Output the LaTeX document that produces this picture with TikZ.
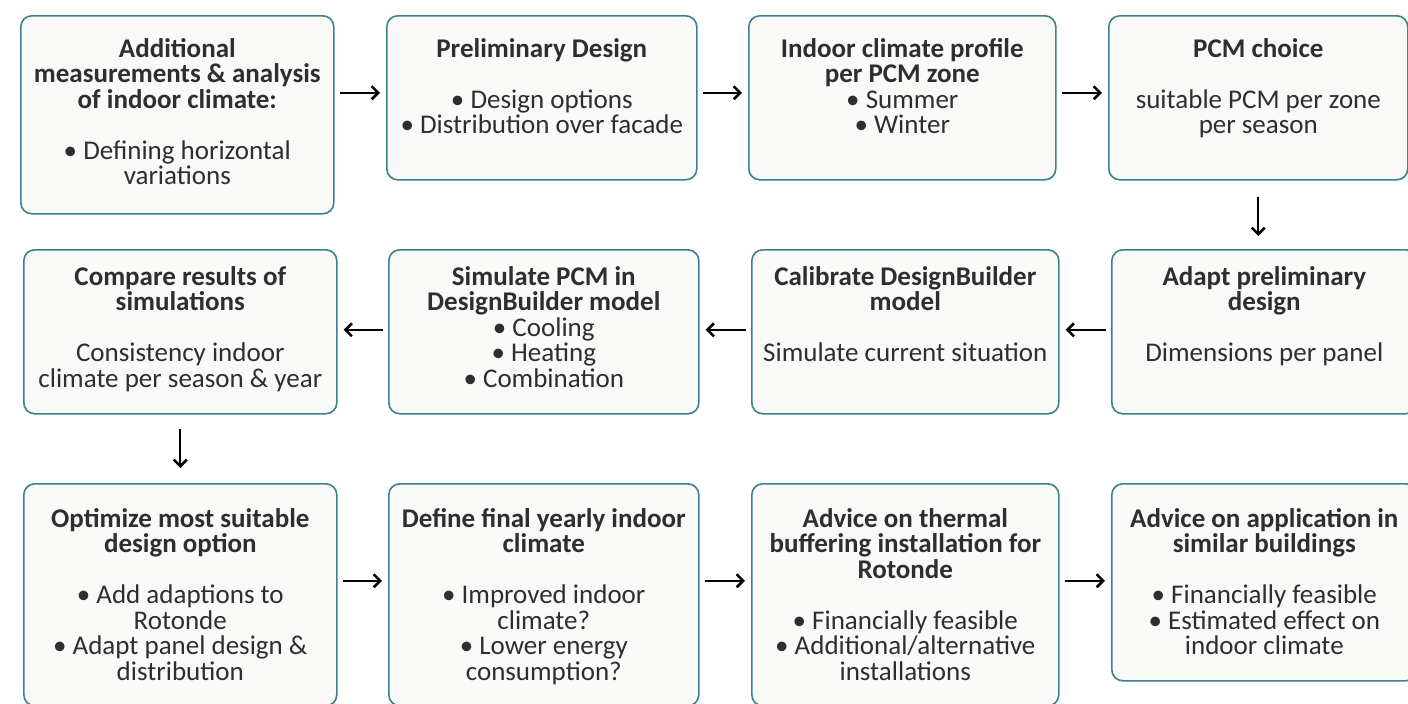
\documentclass[tikz,border=0pt]{standalone}
\usepackage{fontspec}
\setmainfont{Carlito}
\usepackage[dvipsnames]{xcolor}
\usetikzlibrary{arrows.meta}
\usetikzlibrary{positioning}

\definecolor{edgeteal}{RGB}{62,128,142}
\definecolor{boxfill}{RGB}{249,249,247}

\tikzset{
    stage/.style={draw=edgeteal, fill=boxfill, line width=1.6pt, rounded corners=11pt,
        anchor=north west, inner sep=0pt},
    stagetext/.style={align=center, inner sep=0pt, anchor=north,
        font=\fontsize{27}{25.5}\selectfont, text=black!82},
    flow/.style={line width=1.8pt, -{Straight Barb[length=6.5pt,width=13pt,line width=2.6pt]},
        shorten <=5pt, shorten >=6pt}
}

\begin{document}
\begin{tikzpicture}[x=1pt,y=-1pt]
    \useasboundingbox (0,0) rectangle (1408,704);
    \clip (0,0) rectangle (1408,704);

    % Reihe 1
    \node[stage, minimum width=313pt, minimum height=198pt] (measure) at (20,15) {};
    \node[stage, minimum width=310pt, minimum height=164pt] (prelim) at (386,15) {};
    \node[stage, minimum width=307pt, minimum height=164pt] (profile) at (748,15) {};
    \node[stage, minimum width=299pt, minimum height=164pt] (choice) at (1108,15) {};

    % Reihe 2
    \node[stage, minimum width=313pt, minimum height=164pt] (compare) at (23,249) {};
    \node[stage, minimum width=310pt, minimum height=164pt] (simulate) at (388,249) {};
    \node[stage, minimum width=307pt, minimum height=164pt] (calibrate) at (751,249) {};
    \node[stage, minimum width=305pt, minimum height=164pt] (adapt) at (1111,249) {};

    % Reihe 3
    \node[stage, minimum width=313pt, minimum height=222pt] (optimize) at (23,483) {};
    \node[stage, minimum width=310pt, minimum height=222pt] (final) at (388,483) {};
    \node[stage, minimum width=307pt, minimum height=222pt] (rotonde) at (751,483) {};
    \node[stage, minimum width=305pt, minimum height=197pt] (similar) at (1111,483) {};

    % Texte
    \node[stagetext, below=23pt of measure.north] (measure-txt)
        {\textbf{Additional}\\\textbf{measurements \& analysis}\\\textbf{of indoor climate:}\\[25.5pt]
         \textbullet\ Defining horizontal\\variations};
    \node[stagetext, below=23pt of prelim.north] (prelim-txt)
        {\textbf{Preliminary Design}\\[25.5pt]\textbullet\ Design options\\\textbullet\ Distribution over facade};
    \node[stagetext, below=23pt of profile.north] (profile-txt)
        {\textbf{Indoor climate profile}\\\textbf{per PCM zone}\\\textbullet\ Summer\\\textbullet\ Winter};
    \node[stagetext, below=23pt of choice.north] (choice-txt)
        {\textbf{PCM choice}\\[25.5pt]suitable PCM per zone\\per season};

    \node[stagetext, below=17pt of compare.north] (compare-txt)
        {\textbf{Compare results of}\\\textbf{simulations}\\[25.5pt]Consistency indoor\\climate per season \& year};
    \node[stagetext, below=17pt of simulate.north] (simulate-txt)
        {\textbf{Simulate PCM in}\\\textbf{DesignBuilder model}\\\textbullet\ Cooling\\\textbullet\ Heating\\\textbullet\ Combination};
    \node[stagetext, below=17pt of calibrate.north] (calibrate-txt)
        {\textbf{Calibrate DesignBuilder}\\\textbf{model}\\[25.5pt]Simulate current situation};
    \node[stagetext, below=17pt of adapt.north] (adapt-txt)
        {\textbf{Adapt preliminary}\\\textbf{design}\\[25.5pt]Dimensions per panel};

    \node[stagetext, below=25pt of optimize.north] (optimize-txt)
        {\textbf{Optimize most suitable}\\\textbf{design option}\\[25.5pt]\textbullet\ Add adaptions to\\Rotonde\\
         \textbullet\ Adapt panel design \&\\distribution};
    \node[stagetext, below=25pt of final.north] (final-txt)
        {\textbf{Define final yearly indoor}\\\textbf{climate}\\[25.5pt]\textbullet\ Improved indoor\\climate?\\
         \textbullet\ Lower energy\\consumption?};
    \node[stagetext, below=25pt of rotonde.north] (rotonde-txt)
        {\textbf{Advice on thermal}\\\textbf{buffering installation for}\\\textbf{Rotonde}\\[25.5pt]
         \textbullet\ Financially feasible\\\textbullet\ Additional/alternative\\installations};
    \node[stagetext, below=25pt of similar.north] (similar-txt)
        {\textbf{Advice on application in}\\\textbf{similar buildings}\\[25.5pt]
         \textbullet\ Financially feasible\\\textbullet\ Estimated effect on\\indoor climate};

    % Pfeile
    \draw[flow] ([yshift=5pt]prelim.west -| measure.east) -- ([yshift=5pt]prelim.west);
    \draw[flow] ([yshift=5pt]prelim.east) -- ([yshift=5pt]profile.west);
    \draw[flow] ([yshift=5pt]profile.east) -- ([yshift=5pt]choice.west);
    \draw[flow, shorten <=16pt, shorten >=13pt] (choice.south) -- (choice.south |- adapt.north);
    \draw[flow] ([yshift=2pt]adapt.west) -- ([yshift=2pt]calibrate.east);
    \draw[flow] ([yshift=2pt]calibrate.west) -- ([yshift=2pt]simulate.east);
    \draw[flow] ([yshift=2pt]simulate.west) -- ([yshift=2pt]compare.east);
    \draw[flow, shorten <=14pt, shorten >=15pt] (compare.south) -- (optimize.north);
    \draw[flow] ([yshift=1.5pt]similar.west -| optimize.east) -- ([yshift=1.5pt]similar.west -| final.west);
    \draw[flow] ([yshift=1.5pt]similar.west -| final.east) -- ([yshift=1.5pt]similar.west -| rotonde.west);
    \draw[flow] ([yshift=1.5pt]similar.west -| rotonde.east) -- ([yshift=1.5pt]similar.west);
\end{tikzpicture}
\end{document}
